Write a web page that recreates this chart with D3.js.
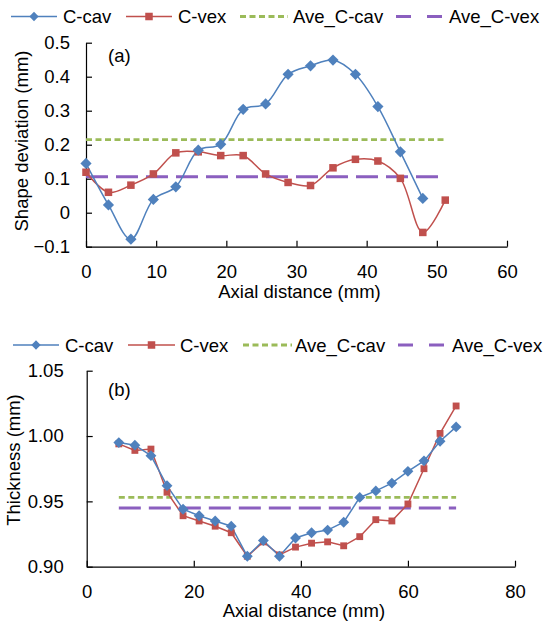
<!DOCTYPE html>
<html>
<head>
<meta charset="utf-8">
<script src="https://cdn.jsdelivr.net/npm/d3@7"></script>
<style>
  html, body { margin: 0; padding: 0; background: #fff; }
  svg { display: block; font-family: "Liberation Sans", Arial, sans-serif; }
</style>
</head>
<body>
<svg id="chart" width="545" height="623"></svg>
<script>
// ---- (a) shape deviation along the axial direction ----
const distA = [0, 3.2, 6.4, 9.6, 12.8, 16, 19.2, 22.4, 25.6, 28.8, 32, 35.2, 38.4, 41.6, 44.8, 48, 51.2];
const cavA = [0.145, 0.023, -0.078, 0.039, 0.076, 0.184, 0.201, 0.304, 0.320, 0.407, 0.432, 0.449, 0.407, 0.312, 0.179, 0.042];
const vexA = [0.119, 0.060, 0.081, 0.114, 0.176, 0.179, 0.168, 0.168, 0.114, 0.089, 0.080, 0.132, 0.157, 0.152, 0.101, -0.058, 0.037];
const aveCavA = 0.215;
const aveVexA = 0.106;
const aveSpanA = [0, 51.2];
const xTicksA = [0, 10, 20, 30, 40, 50, 60];
const yTicksA = [-0.1, 0, 0.1, 0.2, 0.3, 0.4, 0.5];

// ---- (b) wall thickness along the axial direction ----
const distB = [6, 9, 12, 15, 18, 21, 24, 27, 30, 33, 36, 39, 42, 45, 48, 51, 54, 57, 60, 63, 66, 69];
const cavB = [0.995, 0.993, 0.985, 0.962, 0.944, 0.939, 0.935, 0.931, 0.908, 0.920, 0.908, 0.922, 0.926, 0.928, 0.934, 0.953, 0.958, 0.964, 0.973, 0.981, 0.996, 1.007];
const vexB = [0.994, 0.989, 0.990, 0.957, 0.939, 0.935, 0.931, 0.926, 0.908, 0.919, 0.909, 0.915, 0.918, 0.919, 0.916, 0.923, 0.936, 0.935, 0.948, 0.975, 1.002, 1.023];
const aveCavB = 0.953;
const aveVexB = 0.945;
const aveSpanB = [6, 69];
const xTicksB = [0, 20, 40, 60, 80];
const yTicksB = [0.90, 0.95, 1.00, 1.05];

const seriesNames = ["C-cav", "C-vex", "Ave_C-cav", "Ave_C-vex"];

const COL = { cav: "#4F81BD", vex: "#C0504D", aveCav: "#9BBB59", aveVex: "#8B5FBF" };
const FONT = 18.5;

const svg = d3.select("#chart");

const diamond = d3.symbol().type(d3.symbolDiamond2);
const square = d3.symbol().type(d3.symbolSquare2);

function drawLegend(y, xs) {
  const g = svg.append("g").attr("class", "legend");
  const styles = [
    { color: COL.cav, width: 1.5, dash: null, marker: "diamond" },
    { color: COL.vex, width: 1.5, dash: null, marker: "square" },
    { color: COL.aveCav, width: 2.8, dash: "6,3.5", marker: null },
    { color: COL.aveVex, width: 3, dash: "15,16", marker: null }
  ];
  seriesNames.forEach((name, i) => {
    const s = styles[i], p = xs[i];
    g.append("line")
      .attr("x1", p[0]).attr("x2", p[1]).attr("y1", y).attr("y2", y)
      .attr("stroke", s.color).attr("stroke-width", s.width)
      .attr("stroke-dasharray", s.dash);
    const cx = (p[0] + p[1]) / 2;
    if (s.marker === "diamond") {
      g.append("path").attr("d", diamond.size(55)()).attr("transform", `translate(${cx},${y})`).attr("fill", s.color);
    } else if (s.marker === "square") {
      g.append("path").attr("d", square.size(72)()).attr("transform", `translate(${cx},${y})`).attr("fill", s.color);
    }
    g.append("text").attr("x", p[2]).attr("y", y + 6.5)
      .attr("font-size", FONT).attr("fill", "#000").text(name);
  });
}

function drawPanel(cfg) {
  const x = d3.scaleLinear().domain(cfg.xDomain).range([cfg.left, cfg.right]);
  const y = d3.scaleLinear().domain(cfg.yDomain).range([cfg.bottom, cfg.top]);
  const g = svg.append("g");

  // axes with inward ticks
  const xAxis = d3.axisBottom(x).tickValues(cfg.xTicks).tickSizeInner(-6).tickSizeOuter(0)
    .tickPadding(cfg.xPad).tickFormat(d3.format("d"));
  const yAxis = d3.axisLeft(y).tickValues(cfg.yTicks).tickSizeInner(-6).tickSizeOuter(0)
    .tickPadding(cfg.yPad).tickFormat(cfg.yFormat);

  const gx = g.append("g").attr("transform", `translate(0,${cfg.bottom})`).call(xAxis);
  const gy = g.append("g").attr("transform", `translate(${cfg.left},0)`).call(yAxis);
  [gx, gy].forEach(a => {
    a.select(".domain").attr("stroke", "#000").attr("stroke-width", 1.2);
    a.selectAll(".tick line").attr("stroke", "#000").attr("stroke-width", 1.2);
    a.selectAll(".tick text").attr("font-size", FONT).attr("fill", "#000")
      .attr("font-family", '"Liberation Sans", Arial, sans-serif');
  });

  // average lines
  g.append("line")
    .attr("x1", x(cfg.aveSpan[0])).attr("x2", x(cfg.aveSpan[1]))
    .attr("y1", y(cfg.aveCav)).attr("y2", y(cfg.aveCav))
    .attr("stroke", COL.aveCav).attr("stroke-width", 2.8).attr("stroke-dasharray", "6,3.5");
  g.append("line")
    .attr("x1", x(cfg.aveSpan[0])).attr("x2", x(cfg.aveSpan[1]))
    .attr("y1", y(cfg.aveVex)).attr("y2", y(cfg.aveVex))
    .attr("stroke", COL.aveVex).attr("stroke-width", 3).attr("stroke-dasharray", "22,8");

  const line = d3.line().x(d => x(d[0])).y(d => y(d[1])).curve(cfg.curve);
  const cavPts = cfg.cav.map((v, i) => [cfg.dist[i], v]);
  const vexPts = cfg.vex.map((v, i) => [cfg.dist[i], v]);

  g.append("path").attr("d", line(vexPts)).attr("fill", "none").attr("stroke", COL.vex).attr("stroke-width", 1.5);
  g.append("path").attr("d", line(cavPts)).attr("fill", "none").attr("stroke", COL.cav).attr("stroke-width", 1.5);

  g.selectAll(".sq").data(vexPts).join("path")
    .attr("d", square.size(cfg.sqSize)())
    .attr("transform", d => `translate(${x(d[0])},${y(d[1])})`)
    .attr("fill", COL.vex);
  g.selectAll(".dm").data(cavPts).join("path")
    .attr("d", diamond.size(cfg.dmSize)())
    .attr("transform", d => `translate(${x(d[0])},${y(d[1])})`)
    .attr("fill", COL.cav);

  // panel tag
  g.append("text").attr("x", cfg.tag[0]).attr("y", cfg.tag[1])
    .attr("font-size", FONT).text(cfg.tagText);

  // axis titles
  g.append("text").attr("x", (cfg.left + cfg.right) / 2 + 3).attr("y", cfg.xTitleY)
    .attr("text-anchor", "middle").attr("font-size", FONT).text("Axial distance (mm)");
  g.append("text")
    .attr("transform", `translate(${cfg.yTitleX},${cfg.yTitleMid}) rotate(-90)`)
    .attr("text-anchor", "middle").attr("font-size", FONT).text(cfg.yTitle);
}

// top legend and panel (a)
drawLegend(16.5, [[11, 57, 63], [126, 172, 178], [240, 288, 293], [396, 443, 449]]);
drawPanel({
  xDomain: [0, 60], yDomain: [-0.1, 0.5],
  left: 86, right: 507, top: 42.7, bottom: 246.7,
  xTicks: xTicksA, yTicks: yTicksA,
  yFormat: d => d === 0 ? "0" : d3.format(".1f")(d),
  xPad: 18, yPad: 16,
  dist: distA, cav: cavA, vex: vexA,
  aveCav: aveCavA, aveVex: aveVexA, aveSpan: aveSpanA,
  curve: d3.curveCatmullRom.alpha(0.5),
  sqSize: 72, dmSize: 80,
  tag: [108, 62], tagText: "(a)",
  xTitleY: 298, yTitleX: 28, yTitleMid: 141, yTitle: "Shape deviation (mm)"
});

// bottom legend and panel (b)
drawLegend(345, [[13, 59, 65], [128, 175, 180], [243, 292, 295], [398, 444, 452]]);
drawPanel({
  xDomain: [0, 80], yDomain: [0.90, 1.05],
  left: 86.7, right: 515, top: 370.7, bottom: 566.7,
  xTicks: xTicksB, yTicks: yTicksB,
  yFormat: d3.format(".2f"),
  xPad: 18, yPad: 23,
  dist: distB, cav: cavB, vex: vexB,
  aveCav: aveCavB, aveVex: aveVexB, aveSpan: aveSpanB,
  curve: d3.curveLinear,
  sqSize: 60, dmSize: 75,
  tag: [108, 396], tagText: "(b)",
  xTitleY: 617, yTitleX: 20, yTitleMid: 460, yTitle: "Thickness (mm)"
});
</script>
</body>
</html>
